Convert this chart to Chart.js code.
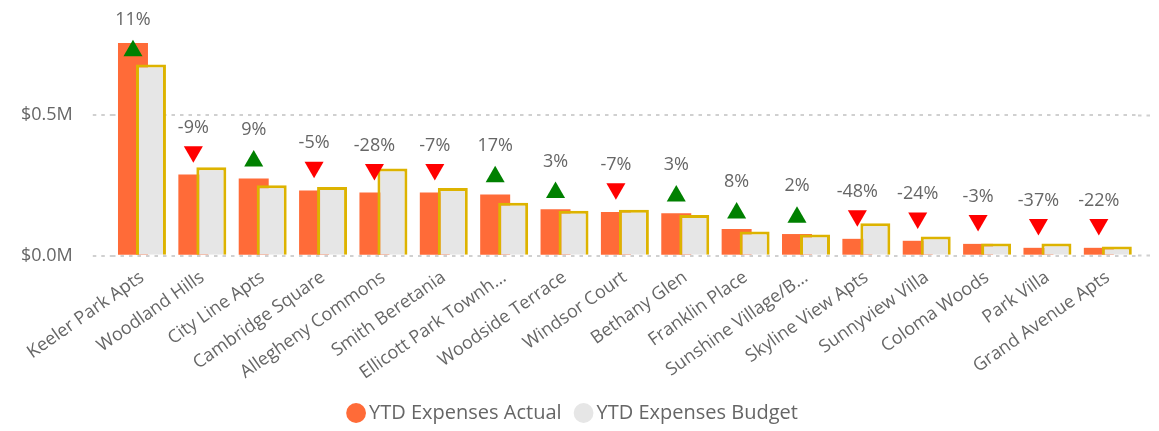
<!DOCTYPE html>
<html>
<head>
<meta charset="utf-8">
<script src="https://cdn.jsdelivr.net/npm/chart.js@4.4.0/dist/chart.umd.min.js"></script>
<style>
  html, body { margin: 0; padding: 0; background: #fff; }
</style>
</head>
<body>
<canvas id="myChart" width="1159" height="431"></canvas>
<script>
const labels = [
  'Keeler Park Apts', 'Woodland Hills', 'City Line Apts', 'Cambridge Square',
  'Allegheny Commons', 'Smith Beretania', 'Ellicott Park Townh…', 'Woodside Terrace',
  'Windsor Court', 'Bethany Glen', 'Franklin Place', 'Sunshine Village/B…',
  'Skyline View Apts', 'Sunnyview Villa', 'Coloma Woods', 'Park Villa', 'Grand Avenue Apts'
];
const actual = [757000, 289000, 275000, 232000, 225000, 225000, 218000, 165000, 155000, 151000, 95000, 77000, 60000, 53000, 42000, 28000, 28000];
const budget = [680000, 315000, 251000, 244000, 310000, 241000, 188000, 160000, 163000, 145000, 86000, 75000, 115000, 68000, 43000, 43000, 33000];
// variance in %, and the height where each arrow sits
const changePct = [11, -9, 9, -5, -28, -7, 17, 3, -7, 3, 8, 2, -48, -24, -3, -37, -22];
const markerVals = [729000, 370000, 337000, 315000, 307000, 307000, 281000, 225000, 238000, 212000, 152000, 137000, 142000, 134000, 125000, 111000, 111000];
const yTicks = [0, 500000];

const FONT = '"Segoe UI", "Open Sans", sans-serif';
const gridCol = '#d0d0d0';

// budget bar overlaps actual bar, so draw datasets first -> last
const drawInOrder = {
  id: 'drawInOrder',
  beforeDatasetsDraw(chart) {
    chart.getSortedVisibleDatasetMetas().forEach(m => m.controller.draw());
    return false;
  }
};

const arrows = {
  id: 'arrows',
  afterDraw(chart) {
    const ctx = chart.ctx;
    const yScale = chart.scales.y;
    const bars = chart.getDatasetMeta(0).data;
    ctx.save();
    ctx.font = '18px ' + FONT;
    ctx.textAlign = 'center';
    ctx.textBaseline = 'middle';
    bars.forEach((bar, i) => {
      const up = changePct[i] >= 0;
      const py = yScale.getPixelForValue(markerVals[i]);
      ctx.fillStyle = up ? '#008000' : '#FF0000';
      Chart.helpers.drawPoint(ctx, {pointStyle: 'triangle', rotation: up ? 0 : 180, radius: 11, borderWidth: 0}, bar.x, py);
      ctx.fillStyle = '#666666';
      ctx.fillText(changePct[i] + '%', bar.x, py + (up ? -31 : -24));
    });
    ctx.restore();
  }
};

const setTicks = scale => { scale.ticks = yTicks.map(v => ({value: v})); };

const data = {
  labels: labels,
  datasets: [{
    label: 'YTD Expenses Actual',
    data: actual,
    backgroundColor: '#FF6B38',
    borderWidth: 0,
    barPercentage: 1.667,
    categoryPercentage: 0.596
  },
  {
    label: 'YTD Expenses Budget',
    data: budget,
    backgroundColor: '#E6E6E6',
    borderColor: '#DDB300',
    borderWidth: 3,
    barPercentage: 1.667,
    categoryPercentage: 0.596
  }]
};

const config = {
  type: 'bar',
  data: data,
  plugins: [drawInOrder, arrows],
  options: {
    responsive: false,
    animation: false,
    layout: {padding: {left: 1, right: 9, top: 28, bottom: -2}},
    plugins: {
      tooltip: {enabled: false},
      legend: {
        position: 'bottom',
        labels: {
          usePointStyle: true,
          pointStyle: 'circle',
          boxWidth: 6,
          boxHeight: 14,
          padding: 19,
          color: '#666666',
          font: {size: 20, family: FONT},
          generateLabels(chart) {
            const items = Chart.defaults.plugins.legend.labels.generateLabels(chart);
            items.forEach(it => { it.lineWidth = 0; it.strokeStyle = 'rgba(0,0,0,0)'; });
            return items;
          }
        }
      }
    },
    scales: {
      x: {
        grid: {display: false},
        border: {display: false},
        afterFit: scale => { scale.height -= 3; },
        ticks: {
          autoSkip: false,
          minRotation: 35,
          maxRotation: 35,
          color: '#666666',
          font: {size: 18, family: FONT}
        }
      },
      y: {
        min: 0,
        max: 800000,
        afterBuildTicks: setTicks,
        border: {display: false, dash: [3.5, 5]},
        grid: {color: gridCol, lineWidth: 2, drawTicks: true, tickLength: 19, tickColor: gridCol, tickWidth: 2, tickBorderDash: [3.5, 5]},
        ticks: {
          padding: 20,
          color: '#666666',
          font: {size: 18, family: FONT},
          callback: v => '$' + (v / 1e6).toFixed(1) + 'M'
        }
      },
      y2: {
        position: 'right',
        min: 0,
        max: 800000,
        afterBuildTicks: setTicks,
        border: {display: false},
        grid: {drawOnChartArea: false, drawTicks: true, tickLength: 12, tickColor: gridCol, tickWidth: 2, tickBorderDash: [3.5, 5]},
        ticks: {display: false}
      }
    }
  }
};

const myChart = new Chart(document.getElementById('myChart'), config);
</script>
</body>
</html>
